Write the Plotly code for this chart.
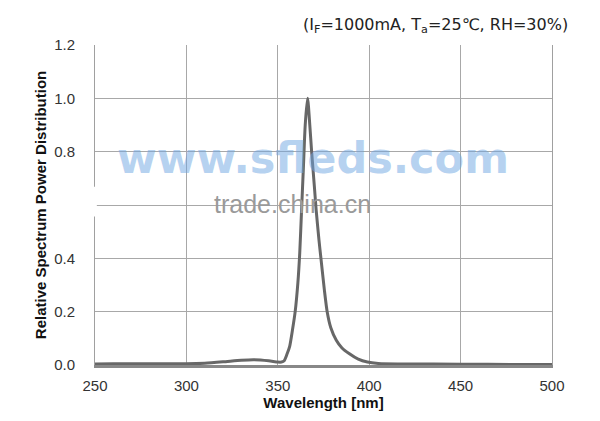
import plotly.graph_objects as go

wavelength = [250, 260, 270, 280, 290, 300, 310, 320, 330, 337, 345, 350, 352, 353.5, 355, 356.5,
              358, 359.5, 361, 362, 363, 364, 365, 366.3, 367.5, 368.5, 370, 371, 372.5, 373.6,
              375.5, 377, 379, 382, 385, 389, 394, 399, 405, 420, 450, 480, 500]
intensity = [0.004, 0.005, 0.005, 0.005, 0.005, 0.005, 0.007, 0.012, 0.018, 0.020, 0.016, 0.011,
             0.011, 0.016, 0.04, 0.07, 0.13, 0.20, 0.31, 0.42, 0.58, 0.74, 0.90, 1.00, 0.90, 0.80,
             0.67, 0.58, 0.47, 0.40, 0.28, 0.20, 0.14, 0.093, 0.065, 0.043, 0.022, 0.011, 0.006,
             0.004, 0.003, 0.002, 0.002]

x_ticks = [250, 300, 350, 400, 450, 500]
y_ticks = [0.0, 0.2, 0.4, 0.6, 0.8, 1.0, 1.2]

FONT = "Liberation Sans, Arial, sans-serif"

fig = go.Figure()
fig.add_trace(go.Scatter(x=wavelength, y=intensity, mode="lines",
                         line=dict(color="#676767", width=3, shape="spline", smoothing=0.6),
                         hoverinfo="skip", showlegend=False))

fig.update_layout(
    width=592, height=413,
    margin=dict(l=87, r=48, t=37, b=56),
    paper_bgcolor="white", plot_bgcolor="white",
    font=dict(family=FONT, size=15, color="#333333"),
    xaxis=dict(range=[250, 500], tickvals=x_ticks, showgrid=True, gridcolor="#a8a8a8", gridwidth=1,
               showline=True, linecolor="#888888", linewidth=3, mirror=False, zeroline=False,
               ticks="", ticklabelstandoff=5,
               title=dict(text="<b>Wavelength [nm]</b>", font=dict(family=FONT, size=15, color="#111111"),
                          standoff=5)),
    yaxis=dict(range=[0, 1.2], tickvals=y_ticks, tickformat=".1f", showgrid=True, gridcolor="#a8a8a8",
               gridwidth=1, showline=True, linecolor="#a0a0a0", linewidth=1, mirror=True, zeroline=False,
               ticks="", ticklabelstandoff=16,
               title=dict(text="<b>Relative Spectrum Power Distribution</b>",
                          font=dict(family=FONT, size=15, color="#111111"), standoff=3)),
    shapes=[
        dict(type="rect", xref="paper", yref="y", x0=0.0, x1=1.01, y0=0.557, y1=0.668,
             fillcolor="white", line=dict(width=0), layer="between"),
        dict(type="rect", xref="paper", yref="y", x0=-0.16, x1=0.004, y0=0.557, y1=0.668,
             fillcolor="white", line=dict(width=0), layer="above"),
    ],
    annotations=[
        dict(text="(I<sub>F</sub>=1000mA, T<sub>a</sub>=25℃, RH=30%)", xref="paper", yref="paper",
             x=1.04, y=1.06, xanchor="right", yanchor="middle", showarrow=False,
             font=dict(family="DejaVu Sans, Verdana, sans-serif", size=16, color="#222222")),
        dict(text="<b>www.sfleds.com</b>", x=369.3, y=0.776, xref="x", yref="y", showarrow=False,
             font=dict(family="DejaVu Sans, sans-serif", size=43, color="rgba(110,165,225,0.5)")),
        dict(text="trade.china.cn", x=358.3, y=0.604, xref="x", yref="y", showarrow=False,
             font=dict(family=FONT, size=25, color="#9a9a9a")),
    ],
)

fig.write_html("out.html")
